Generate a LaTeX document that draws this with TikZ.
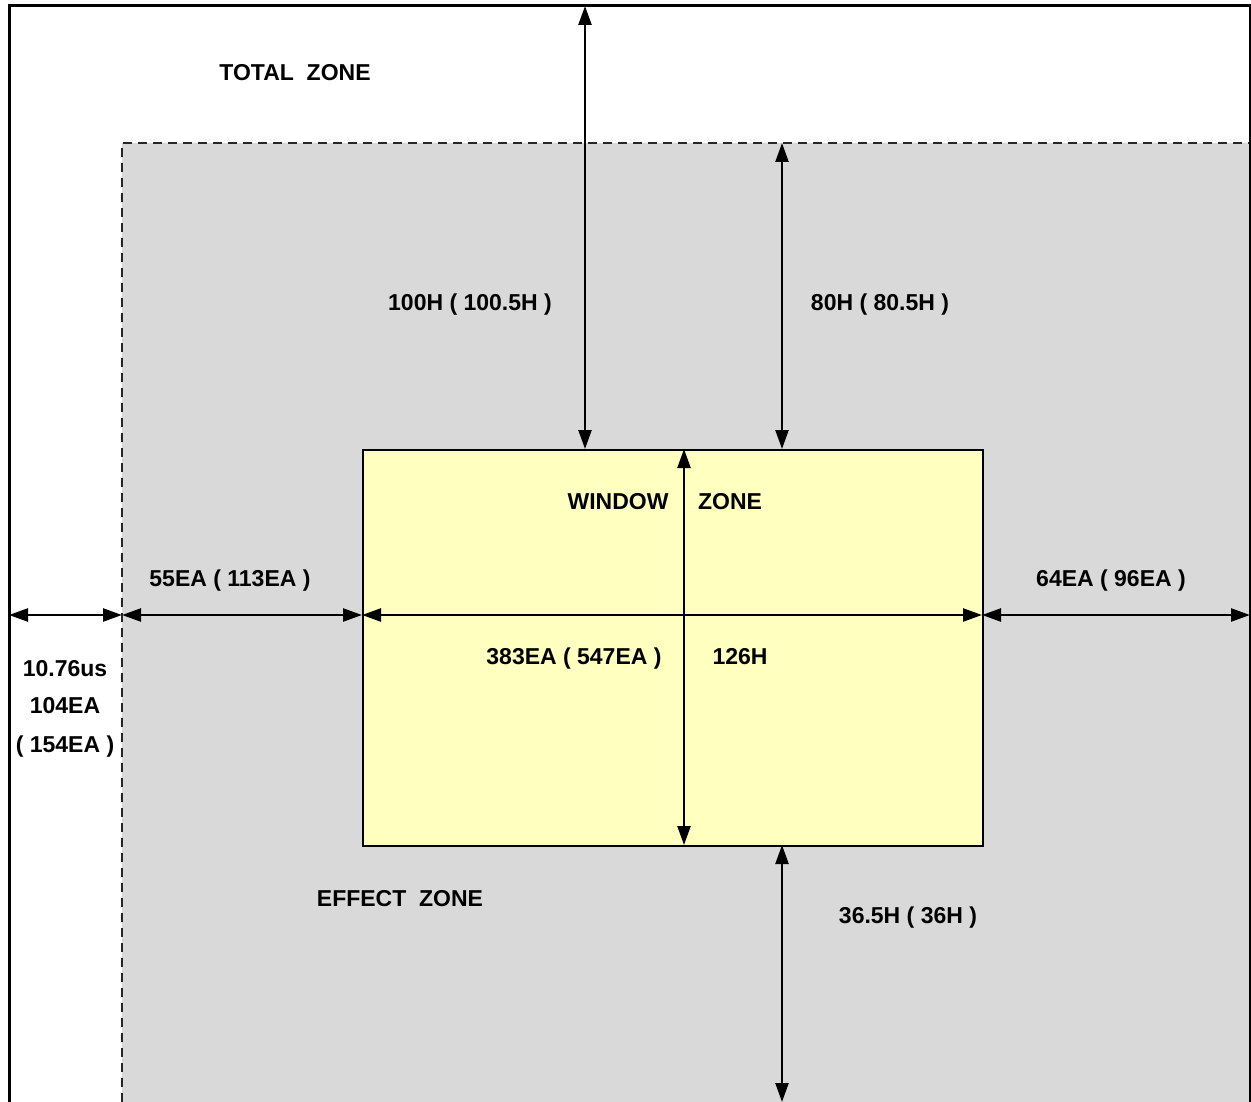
\documentclass[tikz,border=0pt]{standalone}
\usepackage{fontspec}
\setmainfont{Liberation Sans}
\usetikzlibrary{arrows.meta}
\definecolor{effgray}{RGB}{217,217,217}
\definecolor{winyellow}{RGB}{255,255,192}
\begin{document}
\begin{tikzpicture}[x=1pt,y=-1pt,
  dim/.style={line width=2.4pt, {Triangle[length=19pt,width=13pt]}-{Triangle[length=19pt,width=13pt]}},
  lbl/.style={font=\fontsize{23}{27}\selectfont\bfseries, inner sep=0pt, anchor=base},
  dashborder/.style={line width=1.2pt, black!85, dash pattern=on 9pt off 6pt},
  winbox/.style={draw=black, line width=1.8pt, fill=winyellow, inner sep=0pt},
  frame/.style={line width=3pt, black}
]
\useasboundingbox (0,0) rectangle (1251,1102);
\fill[white] (0,0) rectangle (1251,1102);
% effect zone
\fill[effgray] (122,143) rectangle (1251,1102);
\draw[dashborder] (122,1102) -- (122,143) -- (1251,143);
% window zone
\node[winbox, anchor=north west, minimum width=620pt, minimum height=396pt] (win) at (362,449) {};
% total zone frame
\draw[frame] (9,1102) -- (9,6) -- (1250,6) -- (1250,1102);
% coordinates
\coordinate (tl) at (9,615);
\coordinate (el) at (122,615);
\coordinate (wl) at (362,615);
\coordinate (wr) at (982,615);
\coordinate (tr) at (1250,615);
\coordinate (t1) at (585,6);
\coordinate (w1) at (585,449);
\coordinate (e2) at (782,143);
\coordinate (w2) at (782,449);
\coordinate (w3t) at (684,449);
\coordinate (w3b) at (684,845);
\coordinate (w4) at (782,845);
\coordinate (b4) at (782,1102);
% dimension arrows
\draw[dim] (tl) -- (el);
\draw[dim] (el) -- (wl);
\draw[dim] (wl) -- (wr);
\draw[dim] (wr) -- (tr);
\draw[dim] (t1) -- (w1);
\draw[dim] (e2) -- (w2);
\draw[dim] (w3t) -- (w3b);
\draw[dim] (w4) -- (b4);
% labels
\node[lbl] (ltotal) at (295,81) {TOTAL\ \ ZONE};
\node[lbl] (l100) at (470,310) {100H ( 100.5H )};
\node[lbl] (l80) at (880,310) {80H ( 80.5H )};
\node[lbl] (lwin) at (618,509) {WINDOW};
\node[lbl] (lzone) at (730,509) {ZONE};
\node[lbl] (l55) at (230,586) {55EA ( 113EA )};
\node[lbl] (l64) at (1111,586) {64EA ( 96EA )};
\node[lbl] (l383) at (574,664) {383EA ( 547EA )};
\node[lbl] (l126) at (740,664) {126H};
\node[lbl] (la) at (65,676) {10.76us};
\node[lbl] (lb) at (65,713) {104EA};
\node[lbl] (lc) at (65,752) {( 154EA )};
\node[lbl] (leff) at (400,906) {EFFECT\ \ ZONE};
\node[lbl] (l36) at (908,923) {36.5H ( 36H )};
\end{tikzpicture}
\end{document}
